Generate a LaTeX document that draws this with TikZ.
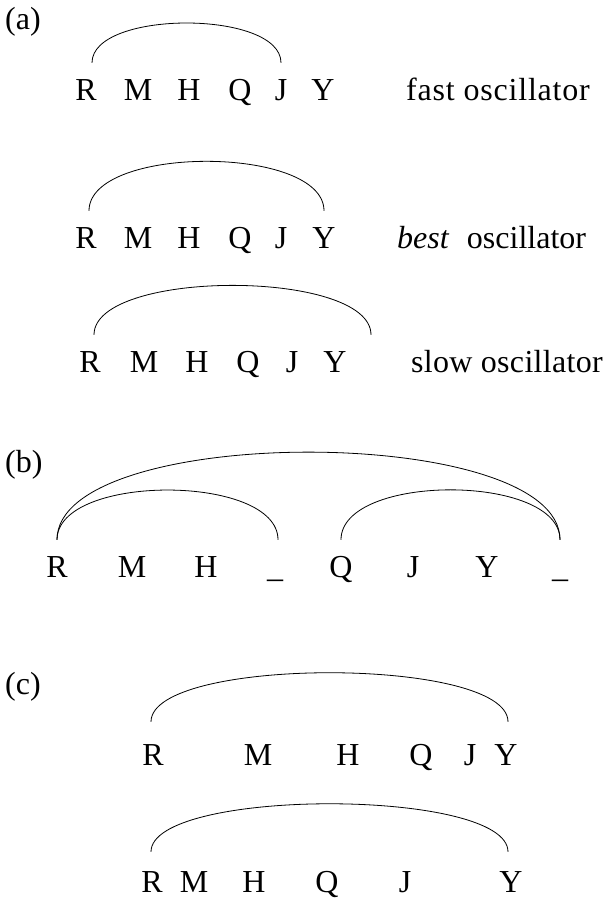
\documentclass[tikz,border=0pt]{standalone}
\usepackage{fontspec}
\setmainfont{Liberation Serif}

\tikzset{
  letter/.style={inner sep=0pt, anchor=base, text height=22pt},
  tag/.style={inner sep=0pt, anchor=base west},
  link/.style={line width=0.8pt},
}

\begin{document}
\begin{tikzpicture}[x=1pt, y=1pt, font=\fontsize{32}{38}\selectfont]
  \useasboundingbox (0,0) rectangle (608,-898);

  % (a) fast, best and slow oscillator
  \node[tag] (la) at (5,-29) {(a)};
  \foreach \l/\x in {R/86,M/138,H/189,Q/240,J/281,Y/323}
    \node[letter] (f\l) at (\x,-100) {\l};
  \node[tag] (fast) at (406,-100) {\addfontfeature{LetterSpace=2.5}fast oscillator};
  \draw[link] ([xshift=6pt,yshift=15pt]fR.north) to[out=90,in=90,looseness=0.72] ([yshift=15pt]fJ.north);

  \foreach \l/\x in {R/86,M/138,H/189,Q/240,J/281,Y/324}
    \node[letter] (m\l) at (\x,-248) {\l};
  \node[tag] (best) at (397,-248) {\textit{best}\hspace{0.55em}oscillator};
  \draw[link] ([xshift=3pt,yshift=15pt]mR.north) to[out=90,in=90,looseness=0.72] ([yshift=15pt]mY.north);

  \foreach \l/\x in {R/90,M/144,H/197,Q/248,J/292,Y/335}
    \node[letter] (s\l) at (\x,-372) {\l};
  \node[tag] (slow) at (411,-372) {\addfontfeature{LetterSpace=1}slow oscillator};
  \coordinate (sEnd) at ([xshift=36pt,yshift=15pt]sY.north);
  \draw[link] ([xshift=4pt,yshift=15pt]sR.north) to[out=90,in=90,looseness=0.61] (sEnd);

  % (b) two halves inside one
  \node[tag] (lb) at (5,-472) {(b)};
  \foreach \n/\l/\x in {R/R/57,M/M/132,H/H/206,u1/\_/275,Q/Q/341,J/J/413,Y/Y/487,u2/\_/560}
    \node[letter] (b\n) at (\x,-577) {\l};
  \draw[link] ([yshift=15pt]bR.north) to[out=90,in=90,looseness=0.596] ([yshift=15pt]bu2.north);
  \draw[link] ([yshift=15pt]bR.north) to[out=90,in=90,looseness=0.77] ([xshift=3pt,yshift=15pt]bu1.north);
  \draw[link] ([yshift=15pt]bQ.north) to[out=90,in=90,looseness=0.78] ([yshift=15pt]bu2.north);

  % (c) uneven spacing
  \node[tag] (lc) at (5,-694) {(c)};
  \foreach \l/\x in {R/153,M/258,H/348,Q/421,J/470,Y/506}
    \node[letter] (c\l) at (\x,-765) {\l};
  \draw[link] ([xshift=-2pt,yshift=21pt]cR.north) to[out=90,in=90,looseness=0.47] ([xshift=2pt,yshift=21pt]cY.north);

  \foreach \l/\x in {R/152,M/194,H/254,Q/327,J/405,Y/511}
    \node[letter] (d\l) at (\x,-892) {\l};
  \draw[link] ([xshift=-1pt,yshift=18pt]dR.north) to[out=90,in=90,looseness=0.46] ([xshift=-3pt,yshift=18pt]dY.north);
\end{tikzpicture}
\end{document}
